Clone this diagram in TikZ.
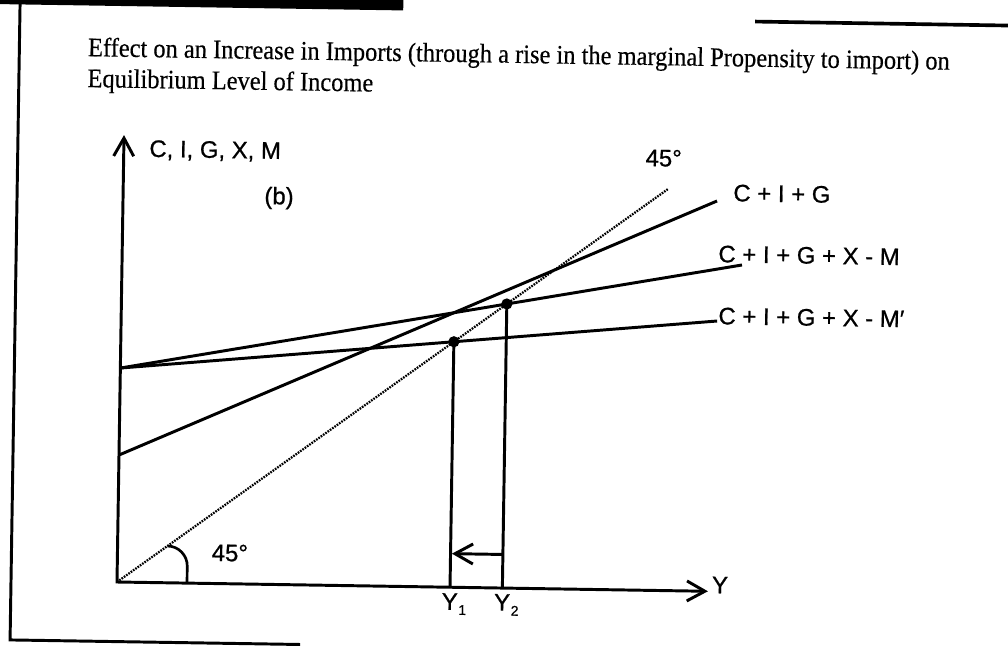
\documentclass[tikz,border=0pt]{standalone}
\usepackage{fontspec}
\setmainfont{Liberation Serif}
\setsansfont[FakeBold=0.8]{Liberation Sans}
\newfontfamily\titlefont[FakeStretch=0.915,FakeBold=0.4]{Liberation Serif}
\usetikzlibrary{arrows.meta}
\tikzset{
  lab/.style={font=\sffamily\fontsize{17}{20}\selectfont,inner sep=0pt},
  curve/.style={line width=2.1pt},
  ref/.style={line width=1.6pt,dash pattern=on 1.2pt off .8pt},
}
\newcommand{\ysub}[1]{Y\rlap{\kern.5pt\raisebox{-3.5pt}{\fontsize{10}{10}\selectfont #1}}}
\begin{document}
\begin{tikzpicture}[x=1cm,y=1cm,>={Straight Barb[length=.45cm,width=.5cm]},line width=2.1pt]
  \useasboundingbox (-2.925,-1.775) rectangle (22.275,14.55);
  \begin{scope}[rotate=-0.9,transform shape]
    % page frame
    \fill (-3.4,14.4) rectangle (6.93,15.6);
    \draw (-2.65,14.45)--(-2.65,-1.49)--(4.6,-1.49);
    \draw[line width=2.6pt] (15.73,14.26)--(23.5,14.26);
    % title
    \node[anchor=base west,inner sep=0pt,align=left,font=\titlefont\fontsize{19}{22}\selectfont] (title) at (-0.97,12.36)
      {Effect on an Increase in Imports (through a rise in the marginal Propensity to import) on\\
       Equilibrium Level of Income};
    % axes
    \coordinate (O) at (0,0);
    \coordinate (ytop) at (0,11.175);
    \coordinate (xend) at (14.775,0);
    \draw[<->] (ytop)--(O)--(xend);
    % 45 degree line
    \coordinate (t45) at (13.62,10.04);
    \draw[ref] (O)--(t45);
    % expenditure lines
    \coordinate (a) at (0,3.175);
    \coordinate (ae) at (14.85,9.76);
    \coordinate (b) at (0,5.35);
    \coordinate (be) at (15.5,8.17);
    \coordinate (ce) at (14.9,6.76);
    \draw[curve] (a)--(ae);
    \draw[curve] (b)--(be);
    \draw[curve] (b)--(ce);
    % equilibria
    \coordinate (e1) at (intersection of O--t45 and b--ce);
    \coordinate (e2) at (intersection of O--t45 and b--be);
    \fill (e1) circle (.14);
    \fill (e2) circle (.14);
    \draw (e1)--(e1 |- O);
    \draw (e2)--(e2 |- O);
    \draw[->,shorten >=1pt] (e2 |- 0,.84)--(e1 |- 0,.84);
    % angle
    \draw[line width=1.9pt] (1.25,.92) arc[start angle=90,end angle=0,radius=.5]--(1.75,0);
    % labels
    \node[lab,anchor=west] (ylab) at (.605,10.81) {C, I, G, X, M};
    \node[lab] (part) at (3.9,9.66) {(b)};
    \node[lab] (ang) at (2.81,.77) {45°};
    \node[lab] (angtop) at (13.5,10.81) {45°};
    \node[lab,anchor=west] (cig) at (15.22,9.965) {C + I + G};
    \node[lab,anchor=west] (cigm) at (14.87,8.435) {C + I + G + X - M};
    \node[lab,anchor=west] (cigmp) at (14.895,6.885) {C + I + G + X - M′};
    \node[lab] (xlab) at (15.075,.16) {Y};
    \node[lab] (y1) at (e1 |- 0,-.42) {\ysub{1}};
    \node[lab] (y2) at (e2 |- 0,-.42) {\ysub{2}};
  \end{scope}
\end{tikzpicture}
\end{document}
